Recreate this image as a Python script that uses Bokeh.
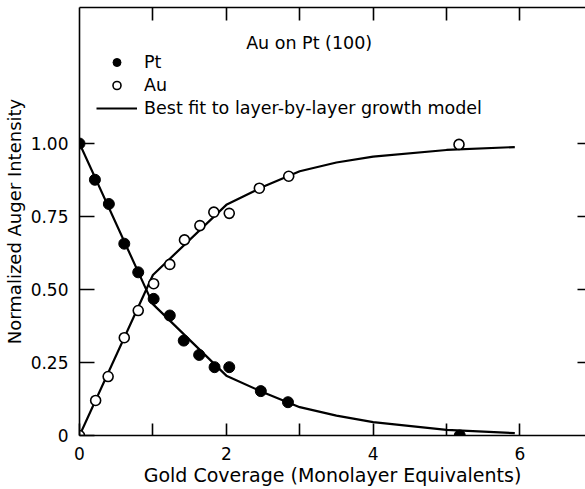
from bokeh.plotting import figure
from bokeh.models import (Range1d, LinearAxis, FixedTicker, Label, Legend, LegendItem)
from bokeh.embed import file_html
from bokeh.resources import INLINE

# ---- data ----
pt_x = [0.0, 0.21, 0.40, 0.61, 0.80, 1.01, 1.23, 1.42, 1.63, 1.84, 2.04, 2.47, 2.84, 5.18]
pt_y = [1.00, 0.876, 0.793, 0.657, 0.559, 0.468, 0.411, 0.325, 0.276, 0.234, 0.234, 0.152, 0.114, 0.0]

au_x = [0.0, 0.22, 0.39, 0.61, 0.80, 1.01, 1.23, 1.43, 1.64, 1.83, 2.04, 2.45, 2.85, 5.17]
au_y = [0.0, 0.120, 0.202, 0.335, 0.428, 0.520, 0.586, 0.670, 0.719, 0.765, 0.761, 0.847, 0.888, 0.997]

fit_x = [0.0, 1.0, 2.0, 2.5, 3.0, 3.5, 4.0, 5.0, 5.93]
pt_fit = [1.0, 0.45, 0.205, 0.148, 0.097, 0.068, 0.046, 0.019, 0.008]
au_fit = [0.0, 0.55, 0.790, 0.852, 0.905, 0.935, 0.955, 0.978, 0.988]

x_ticks = [0, 1, 2, 3, 4, 5, 6]
x_tick_labels = {0: "0", 1: "", 2: "2", 3: "", 4: "4", 5: "", 6: "6"}
y_ticks = [0, 0.25, 0.5, 0.75, 1.0]
y_tick_labels = {0: "0", 0.25: "0.25", 0.5: "0.50", 0.75: "0.75", 1.0: "1.00"}

FONT = "DejaVu Sans"
X_END = 6.893
Y_END = 1.466

p = figure(width=585, height=489, output_backend="svg", toolbar_location=None,
           x_range=Range1d(0, X_END), y_range=Range1d(0, Y_END),
           x_axis_location=None, y_axis_location=None,
           min_border_left=78, min_border_right=0, min_border_top=7, min_border_bottom=54)
p.outline_line_color = None
p.grid.visible = False
p.background_fill_color = "white"


def style(ax, tick_in, labels=True, line=True):
    ax.axis_line_color = "black" if line else None
    ax.axis_line_width = 1.6
    ax.major_tick_line_color = "black"
    ax.major_tick_line_width = 1.6
    ax.major_tick_in = tick_in
    ax.major_tick_out = 0
    ax.minor_tick_line_color = None
    ax.major_label_text_font = FONT
    ax.major_label_text_color = "black"
    ax.axis_label_text_font = FONT
    ax.axis_label_text_font_style = "normal"
    ax.axis_label_text_color = "black"
    if labels:
        ax.major_label_text_font_size = "17px"
    else:
        ax.major_label_text_font_size = "1px"
        ax.major_label_standoff = 0


# bottom axis
xb = LinearAxis(ticker=FixedTicker(ticks=x_ticks), major_label_overrides=x_tick_labels,
                axis_label="Gold Coverage (Monolayer Equivalents)")
style(xb, 12)
xb.major_label_standoff = 11
xb.axis_label_standoff = 1
xb.axis_label_text_font_size = "19px"
p.add_layout(xb, "below")

# top axis (border line and ticks only)
xt = LinearAxis(ticker=FixedTicker(ticks=x_ticks[1:]),
                major_label_overrides={t: "" for t in x_ticks[1:]})
style(xt, 13, labels=False)
p.add_layout(xt, "above")

# left border line (full height)
yline = LinearAxis(ticker=FixedTicker(ticks=[]))
style(yline, 0, labels=False)
p.add_layout(yline, "left")

# left axis with labels
yl = LinearAxis(ticker=FixedTicker(ticks=y_ticks), major_label_overrides=y_tick_labels,
                bounds=(0, 1.0), axis_label="Normalized Auger Intensity")
style(yl, 15, line=False)
yl.major_label_standoff = 11
yl.axis_label_standoff = 3
yl.axis_label_text_font_size = "18px"
p.add_layout(yl, "left")

# right axis (ticks only)
yr = LinearAxis(ticker=FixedTicker(ticks=y_ticks[1:]),
                major_label_overrides={t: "" for t in y_ticks[1:]})
style(yr, 8, labels=False, line=False)
p.add_layout(yr, "right")

# fit lines
l1 = p.line(fit_x, pt_fit, line_color="black", line_width=2.2)
p.line(fit_x, au_fit, line_color="black", line_width=2.2)

# data points
r_pt = p.scatter(pt_x, pt_y, marker="circle", size=11, fill_color="black", line_color="black")
r_au = p.scatter(au_x, au_y, marker="circle", size=10, fill_color="white", line_color="black",
                 line_width=1.6)

legend = Legend(items=[LegendItem(label="Pt", renderers=[r_pt]),
                       LegendItem(label="Au", renderers=[r_au]),
                       LegendItem(label="Best fit to layer-by-layer growth model", renderers=[l1])],
                location=(17, 317), padding=0, margin=0, spacing=3,
                glyph_width=41, glyph_height=20, label_standoff=7,
                border_line_color=None, background_fill_alpha=0,
                label_text_font=FONT, label_text_font_size="17.5px", label_text_color="black")
p.add_layout(legend)

p.add_layout(Label(x=2.27, y=1.346, text="Au on Pt (100)", text_font=FONT,
                   text_font_size="17.5px", text_baseline="middle", text_align="left",
                   text_color="black"))

open("out.html", "w").write(file_html(p, INLINE))
